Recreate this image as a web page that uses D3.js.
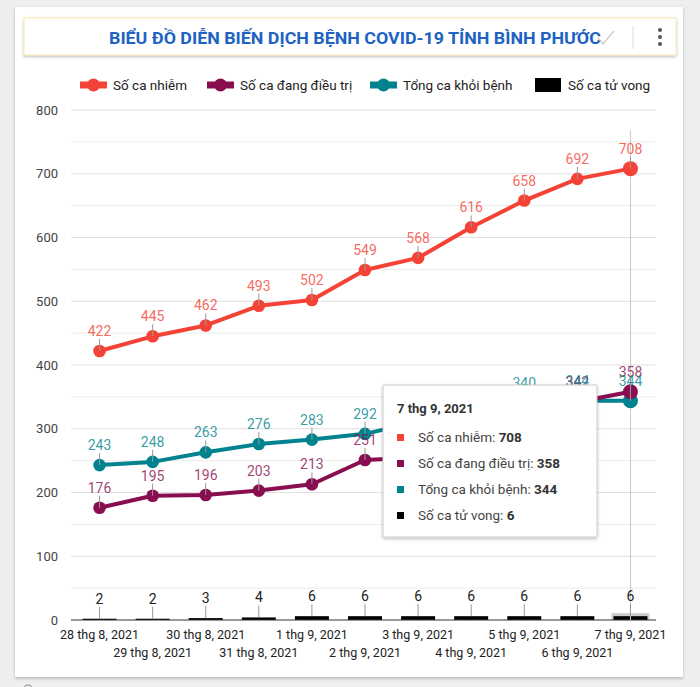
<!DOCTYPE html>
<html>
<head>
<meta charset="utf-8">
<script src="https://cdn.jsdelivr.net/npm/d3@7"></script>
<style>
  body { margin:0; background:#eeeeee; font-family: Roboto, "Noto Sans", sans-serif; }
  svg { display:block; }
</style>
</head>
<body>
<svg id="chart" width="700" height="687"></svg>
<script>
const categories = ["28 thg 8, 2021","29 thg 8, 2021","30 thg 8, 2021","31 thg 8, 2021","1 thg 9, 2021","2 thg 9, 2021","3 thg 9, 2021","4 thg 9, 2021","5 thg 9, 2021","6 thg 9, 2021","7 thg 9, 2021"];
const infected  = [422,445,462,493,502,549,568,616,658,692,708];
const treating  = [176,195,196,203,213,251,255,285,312,342,358];
const recovered = [243,248,263,276,283,292,311,324,340,344,344];
const deaths    = [2,2,3,4,6,6,6,6,6,6,6];
const yTicks = [0,100,200,300,400,500,600,700,800];
const seriesNames = ["Số ca nhiễm","Số ca đang điều trị","Tổng ca khỏi bệnh","Số ca tử vong"];
const colors = ["#f44336","#880e4f","#00838f","#000000"];
const hoverIndex = 10;

const svg = d3.select("#chart");
const defs = svg.append("defs");
const f = defs.append("filter").attr("id","sh").attr("x","-10%").attr("y","-10%").attr("width","120%").attr("height","130%");
f.append("feDropShadow").attr("dx",0).attr("dy",1.5).attr("stdDeviation",1.5).attr("flood-color","#000").attr("flood-opacity",0.25);

// card
svg.append("rect").attr("x",15).attr("y",7).attr("width",668).attr("height",670).attr("fill","#fff").attr("filter","url(#sh)");
// title box
svg.append("rect").attr("x",24).attr("y",18).attr("width",652).attr("height",37).attr("fill","#fff")
  .attr("stroke","#f5e7b0").attr("stroke-width",1).attr("filter","url(#sh)");
svg.append("text").attr("x",355).attr("y",44).attr("text-anchor","middle")
  .attr("font-family","Roboto").attr("font-weight","bold").attr("font-size",16).attr("fill","#1e63c2")
  .attr("textLength",492).attr("lengthAdjust","spacingAndGlyphs")
  .text("BIỂU ĐỒ DIỄN BIẾN DỊCH BỆNH COVID-19 TỈNH BÌNH PHƯỚC");
svg.append("path").attr("d","M598,38 L603,44 L614,31").attr("fill","none").attr("stroke","#c8c8c8").attr("stroke-width",1.2);
svg.append("line").attr("x1",633).attr("x2",633).attr("y1",26).attr("y2",49).attr("stroke","#ddd");
[30,37,44].forEach(cy=>svg.append("circle").attr("cx",660).attr("cy",cy).attr("r",2).attr("fill","#555"));
svg.append("circle").attr("cx",28).attr("cy",690).attr("r",5).attr("fill","none").attr("stroke","#888");

// scales
const L=71, R=656, T=110, B=620;
const x = d3.scaleBand().domain(categories).range([L+2,R+1]).paddingInner(0.36).paddingOuter(0.18);
const cx = d => x(d)+x.bandwidth()/2;
const y = d3.scaleLinear().domain([0,800]).range([B,T]);

const g = svg.append("g");
// gridlines (major + minor)
const grid = d3.range(50,801,50);
g.selectAll(".grid").data(grid).enter().append("line")
  .attr("x1",L).attr("x2",R).attr("y1",d=>y(d)).attr("y2",d=>y(d))
  .attr("stroke",d=>d%100===0?"#e0e0e0":"#ececec").attr("stroke-width",1);

// y axis
const yAxis = d3.axisLeft(y).tickValues(yTicks).tickSize(0).tickPadding(13);
const ya = g.append("g").attr("transform",`translate(${L},0)`).call(yAxis);
ya.select(".domain").remove();
ya.selectAll("text").attr("font-family","Roboto").attr("font-size",13).attr("fill","#444");

// hover highlight
const hv = categories[hoverIndex];
g.append("rect").attr("x",x(hv)-2).attr("y",y(deaths[hoverIndex])-3).attr("width",x.bandwidth()+4).attr("height",y(0)-y(deaths[hoverIndex])+3).attr("fill","#ccc");

// bars
g.selectAll(".bar").data(deaths).enter().append("rect")
  .attr("x",(d,i)=>x(categories[i])).attr("y",d=>y(d)).attr("width",x.bandwidth()).attr("height",d=>y(0)-y(d)).attr("fill","#000");

// x axis
const xAxis = d3.axisBottom(x).tickSize(0).tickPadding(0);
const xa = g.append("g").attr("transform",`translate(0,${B})`).call(xAxis);
xa.select(".domain").attr("stroke","#333").attr("d",`M${L},0H${R}`);
xa.selectAll("text").attr("font-family","Roboto").attr("font-size",12.5).attr("fill","#222")
  .attr("dy",null).attr("y",(d,i)=>i%2===0?19:37);

// crosshair
g.append("line").attr("x1",cx(hv)).attr("x2",cx(hv)).attr("y1",T+20).attr("y2",B).attr("stroke","#c8c8c8").attr("stroke-width",1);

// bar annotations
deaths.forEach((d,i)=>{
  const px=cx(categories[i]), py=y(d);
  g.append("line").attr("x1",px).attr("x2",px).attr("y1",py-12).attr("y2",py).attr("stroke","#999");
  g.append("text").attr("x",px).attr("y",py-15).attr("text-anchor","middle").attr("font-family","Roboto").attr("font-size",14).attr("fill","#222").text(d);
});

// lines
const line = d3.line().x((d,i)=>cx(categories[i])).y(d=>y(d)).curve(d3.curveLinear);
[[recovered,2],[treating,1],[infected,0]].forEach(([s,k])=>{
  g.append("path").datum(s).attr("d",line).attr("fill","none").attr("stroke",colors[k]).attr("stroke-width",4).attr("stroke-linejoin","round");
  g.selectAll(".pt"+k).data(s).enter().append("circle").attr("cx",(d,i)=>cx(categories[i])).attr("cy",d=>y(d))
    .attr("r",(d,i)=>i===hoverIndex?7.5:6.3).attr("fill",colors[k]);
});
// line annotations
[[infected,0],[treating,1],[recovered,2]].forEach(([s,k])=>{
  s.forEach((d,i)=>{
    const px=cx(categories[i]), py=y(d);
    g.append("line").attr("x1",px).attr("x2",px).attr("y1",py-12).attr("y2",py).attr("stroke","#999");
    g.append("text").attr("x",px).attr("y",py-15).attr("text-anchor","middle").attr("font-family","Roboto").attr("font-size",14)
      .attr("fill",colors[k]).attr("fill-opacity",0.8).text(d);
  });
});

// legend
const lg = svg.append("g");
const legendX=[80,207,370,535];
seriesNames.forEach((n,k)=>{
  const lx=legendX[k], ly=85;
  if(k<3){
    lg.append("line").attr("x1",lx).attr("x2",lx+27).attr("y1",ly).attr("y2",ly).attr("stroke",colors[k]).attr("stroke-width",7);
    lg.append("circle").attr("cx",lx+13.5).attr("cy",ly).attr("r",6.5).attr("fill",colors[k]);
  } else {
    lg.append("rect").attr("x",lx).attr("y",ly-7).attr("width",26).attr("height",14).attr("fill","#000");
  }
  lg.append("text").attr("x",lx+33).attr("y",ly+5).attr("font-family","Roboto").attr("font-size",13.5).attr("fill","#222").text(n);
});

// tooltip
const tt = svg.append("g").attr("transform","translate(383,385)");
tt.append("rect").attr("width",214).attr("height",152).attr("fill","#fff").attr("stroke","#ccc").attr("rx",1).attr("filter","url(#sh)");
tt.append("text").attr("x",14).attr("y",28).attr("font-family","Roboto").attr("font-weight","bold").attr("font-size",13).attr("fill","#333").text(categories[hoverIndex]);
const vals=[infected[hoverIndex],treating[hoverIndex],recovered[hoverIndex],deaths[hoverIndex]];
seriesNames.forEach((n,k)=>{
  const ry=53+k*26;
  tt.append("rect").attr("x",14).attr("y",ry-4).attr("width",7).attr("height",7).attr("fill",colors[k]);
  const t=tt.append("text").attr("x",35).attr("y",ry+4).attr("font-family","Roboto").attr("font-size",13.5).attr("fill","#444");
  t.append("tspan").text(n+": ");
  t.append("tspan").attr("font-weight","bold").attr("fill","#333").text(vals[k]);
});
</script>
</body>
</html>
